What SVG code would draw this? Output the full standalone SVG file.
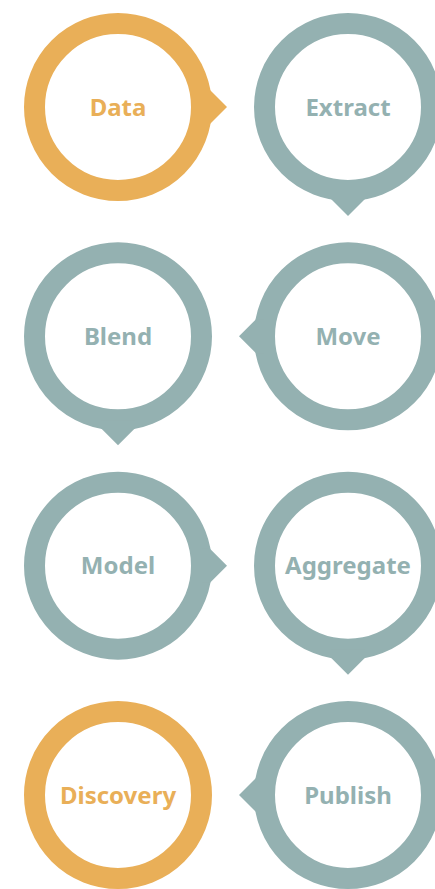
<svg xmlns="http://www.w3.org/2000/svg" xmlns:xlink="http://www.w3.org/1999/xlink" width="435" height="889" viewBox="0 0 435 889">
<style>
.ring{fill:none;stroke-width:21}
.o .ring{stroke:#E9AF58}
.t .ring{stroke:#94B1B1}
.o .ptr{fill:#E9AF58}
.t .ptr{fill:#94B1B1}
.lbl{font-family:"Noto Sans","Open Sans","DejaVu Sans",sans-serif;font-weight:bold;font-size:24px;text-anchor:middle}
.o .lbl{fill:#E9AF58}
.t .lbl{fill:#94B1B1}
</style>
<defs>
<path id="ptr" d="M109,0 L92,17 L84,17 L84,-17 L92,-17 Z"/>
</defs>
<rect width="435" height="889" fill="#fff"/>
<g id="connectors"></g>
<g id="data" class="o" transform="translate(118,107)">
<circle class="ring" r="83.5"/><use class="ptr" xlink:href="#ptr"/>
<text class="lbl" y="8.5">Data</text></g>
<g id="extract" class="t" transform="translate(348,107)">
<circle class="ring" r="83.5"/><use class="ptr" xlink:href="#ptr" transform="rotate(90)"/>
<text class="lbl" y="8.5">Extract</text></g>
<g id="blend" class="t" transform="translate(118,336.3)">
<circle class="ring" r="83.5"/><use class="ptr" xlink:href="#ptr" transform="rotate(90)"/>
<text class="lbl" y="8.5">Blend</text></g>
<g id="move" class="t" transform="translate(348,336.3)">
<circle class="ring" r="83.5"/><use class="ptr" xlink:href="#ptr" transform="rotate(180)"/>
<text class="lbl" y="8.5">Move</text></g>
<g id="model" class="t" transform="translate(118,565.7)">
<circle class="ring" r="83.5"/><use class="ptr" xlink:href="#ptr"/>
<text class="lbl" y="8.5">Model</text></g>
<g id="aggregate" class="t" transform="translate(348,565.7)">
<circle class="ring" r="83.5"/><use class="ptr" xlink:href="#ptr" transform="rotate(90)"/>
<text class="lbl" y="8.5">Aggregate</text></g>
<g id="discovery" class="o" transform="translate(118,795)">
<circle class="ring" r="83.5"/>
<text class="lbl" y="8.5">Discovery</text></g>
<g id="publish" class="t" transform="translate(348,795)">
<circle class="ring" r="83.5"/><use class="ptr" xlink:href="#ptr" transform="rotate(180)"/>
<text class="lbl" y="8.5">Publish</text></g>
</svg>
